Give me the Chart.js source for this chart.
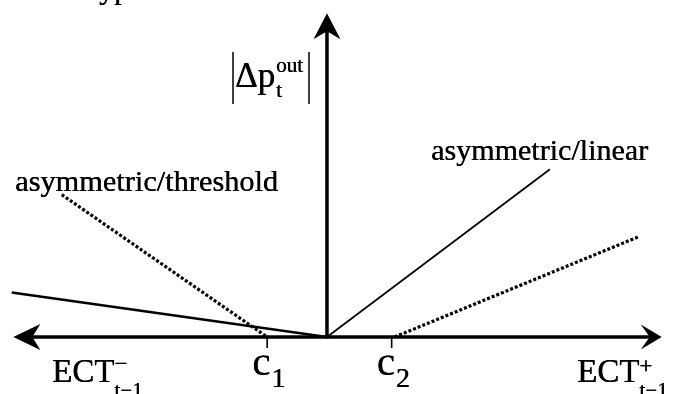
<!DOCTYPE html>
<html>
<head>
<meta charset="utf-8">
<script src="https://cdn.jsdelivr.net/npm/chart.js@4"></script>
<style>
  body { margin: 0; background: #fff; }
  canvas { display: block; }
</style>
</head>
<body>
<canvas id="chart" width="673" height="394"></canvas>
<script>
// thresholds on the ECT axis
const thresholds = [-1.84, 1.99];
const thresholdLabels = ['1', '2'];

// line end points, [x, y] in axis units
const linearNegX = [-9.7, 0];
const linearNegY = [1.37, 0];
const linearPosX = [0, 6.86];
const linearPosY = [0, 5.16];
const thresholdNegX = [-8.16, -1.84];
const thresholdNegY = [4.38, 0];
const thresholdPosX = [2.08, 9.6];
const thresholdPosY = [0, 3.09];

const toPoints = (xs, ys) => xs.map((x, i) => ({ x: x, y: ys[i] }));

const SERIF = '"Liberation Serif", "Times New Roman", serif';

function arrowHead(ctx, tipX, tipY, dx, dy, len, half, notch) {
    // dx, dy: unit direction the arrow points to
    const px = -dy, py = dx;
    ctx.beginPath();
    ctx.moveTo(tipX, tipY);
    ctx.lineTo(tipX - dx * len + px * half, tipY - dy * len + py * half);
    ctx.lineTo(tipX - dx * notch, tipY - dy * notch);
    ctx.lineTo(tipX - dx * len - px * half, tipY - dy * len - py * half);
    ctx.closePath();
    ctx.fill();
}

// filled twice with a small shift so the glyphs look as heavy as the scan
function text(ctx, str, x, y, size) {
    ctx.font = size + 'px ' + SERIF;
    ctx.fillText(str, x, y);
    ctx.fillText(str, x + 0.4, y);
    return ctx.measureText(str).width;
}

function fitText(ctx, str, x, y, size, width) {
    ctx.save();
    ctx.font = size + 'px ' + SERIF;
    const m = ctx.measureText(str).width;
    ctx.translate(x, y);
    ctx.scale(width / m, 1);
    ctx.fillText(str, 0, 0);
    ctx.fillText(str, 0.4, 0);
    ctx.restore();
}

const axesPlugin = {
    id: 'axes',
    beforeDraw(chart) {
        const ctx = chart.ctx;
        ctx.save();
        ctx.fillStyle = '#fff';
        ctx.fillRect(0, 0, chart.width, chart.height);
        ctx.restore();
    },
    afterDatasetsDraw(chart) {
        const ctx = chart.ctx;
        const xs = chart.scales.x, ys = chart.scales.y;
        const ox = xs.getPixelForValue(0), oy = ys.getPixelForValue(0);
        const left = xs.getPixelForValue(-9.65);
        const right = xs.getPixelForValue(10.3);
        const top = ys.getPixelForValue(9.96);

        ctx.save();
        ctx.strokeStyle = '#000';
        ctx.fillStyle = '#000';
        ctx.lineWidth = 3.5;
        ctx.lineCap = 'butt';

        // horizontal axis
        ctx.beginPath();
        ctx.moveTo(left + 15, oy);
        ctx.lineTo(right - 10, oy);
        ctx.stroke();
        // vertical axis
        ctx.beginPath();
        ctx.moveTo(ox, oy + 1.5);
        ctx.lineTo(ox, top + 15);
        ctx.stroke();

        arrowHead(ctx, left, oy, -1, 0, 27, 13, 19);
        arrowHead(ctx, right, oy, 1, 0, 21, 12.5, 12);
        arrowHead(ctx, ox, top, 0, -1, 26, 13.5, 18);

        // threshold ticks
        ctx.lineWidth = 1.6;
        thresholds.forEach(t => {
            const px = xs.getPixelForValue(t);
            ctx.beginPath();
            ctx.moveTo(px, oy);
            ctx.lineTo(px, oy + 11);
            ctx.stroke();
        });

        ctx.textBaseline = 'alphabetic';
        ctx.textAlign = 'left';

        // threshold labels
        thresholds.forEach((t, i) => {
            const px = xs.getPixelForValue(t);
            const w = text(ctx, 'c', px - 15, oy + 38, 41);
            text(ctx, thresholdLabels[i], px - 15 + w + 1, oy + 50, 28);
        });

        // ECT labels
        let w = text(ctx, 'ECT', 52, 382, 33);
        text(ctx, '\u2212', 52 + w, 371, 23);
        text(ctx, 't\u22121', 52 + w, 397, 21);

        w = text(ctx, 'ECT', 577, 382, 33);
        text(ctx, '+', 577 + w, 373, 23);
        text(ctx, 't\u22121', 577 + w, 397, 21);

        // vertical axis label |Δp_t^out|
        ctx.lineWidth = 1.5;
        ctx.beginPath();
        ctx.moveTo(233, 52); ctx.lineTo(233, 104);
        ctx.moveTo(309, 52); ctx.lineTo(309, 104);
        ctx.stroke();
        w = text(ctx, '\u0394p', 235, 87, 35);
        text(ctx, 'out', 235 + w + 1, 72, 21);
        text(ctx, 't', 235 + w + 1, 97, 21);

        // line labels
        fitText(ctx, 'asymmetric/threshold', 15, 191, 30, 263);
        fitText(ctx, 'asymmetric/linear', 431, 160, 30, 217);

        // cut-off heading fragment at the top
        text(ctx, 'yp', 99, -1, 30);

        ctx.restore();
    }
};

new Chart(document.getElementById('chart'), {
    type: 'scatter',
    data: {
        datasets: [
            {
                label: 'asymmetric/linear (negative)',
                data: toPoints(linearNegX, linearNegY),
                borderColor: '#000',
                borderWidth: 2.5,
                showLine: true,
                pointRadius: 0
            },
            {
                label: 'asymmetric/linear (positive)',
                data: toPoints(linearPosX, linearPosY),
                borderColor: '#000',
                borderWidth: 1.7,
                showLine: true,
                pointRadius: 0
            },
            {
                label: 'asymmetric/threshold (negative)',
                data: toPoints(thresholdNegX, thresholdNegY),
                borderColor: '#000',
                borderWidth: 3.2,
                borderDash: [3, 2],
                showLine: true,
                pointRadius: 0
            },
            {
                label: 'asymmetric/threshold (positive)',
                data: toPoints(thresholdPosX, thresholdPosY),
                borderColor: '#000',
                borderWidth: 3.2,
                borderDash: [3, 2],
                showLine: true,
                pointRadius: 0
            }
        ]
    },
    options: {
        responsive: false,
        animation: false,
        devicePixelRatio: 1,
        layout: { padding: 0 },
        scales: {
            x: { type: 'linear', min: -10.06, max: 10.646, display: false },
            y: { type: 'linear', min: -1.754, max: 10.369, display: false }
        },
        plugins: {
            legend: { display: false },
            tooltip: { enabled: false }
        }
    },
    plugins: [axesPlugin]
});
</script>
</body>
</html>
